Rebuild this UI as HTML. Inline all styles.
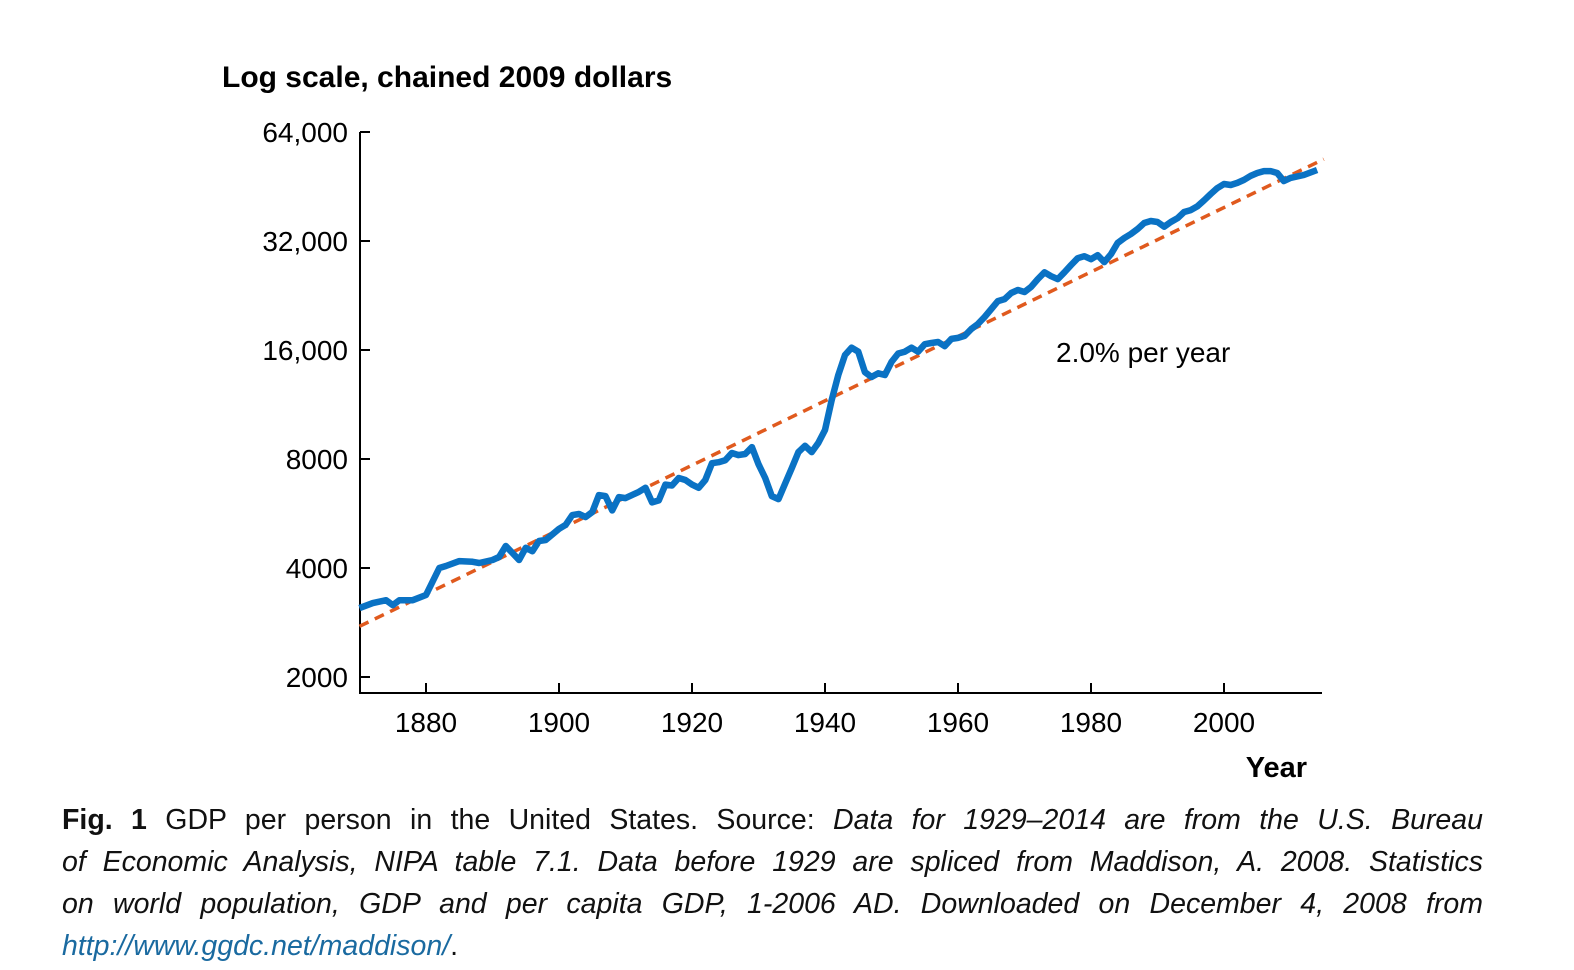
<!DOCTYPE html>
<html><head><meta charset="utf-8"><style>
body{margin:0;background:#fff;width:1574px;height:970px;overflow:hidden;font-family:"Liberation Sans",Arial,sans-serif}
#cap{position:absolute;left:62px;top:799px;width:1421px;font-size:28.5px;line-height:42px;color:#111}
#cap div{text-align:justify;text-align-last:justify;white-space:nowrap;height:42px}
#cap div.last{text-align-last:left}
#cap i{font-style:italic}
</style></head><body>
<svg width="1574" height="790" style="position:absolute;left:0;top:0">
<g id="g"></g>
</svg>
<div id="cap">
<div style="white-space:normal"><b>Fig. 1</b> GDP per person in the United States. Source: <i>Data for 1929–2014 are from the U.S. Bureau</i></div>
<div style="white-space:normal"><i>of Economic Analysis, NIPA table 7.1. Data before 1929 are spliced from Maddison, A. 2008. Statistics</i></div>
<div style="white-space:normal"><i>on world population, GDP and per capita GDP, 1-2006 AD. Downloaded on December 4, 2008 from</i></div>
<div class="last"><i><span style="color:#1a6aa0">http://www.ggdc.net/maddison/</span></i>.</div>
</div>
<script>
const years=[1870,1872,1874,1875,1876,1878,1880,1882,1883,1885,1887,1888,1890,1891,1892,1894,1895,1896,1897,1898,1900,1901,1902,1903,1904,1905,1906,1907,1908,1909,1910,1912,1913,1914,1915,1916,1917,1918,1919,1920,1921,1922,1923,1924,1925,1926,1927,1928,1929,1930,1931,1932,1933,1934,1935,1936,1937,1938,1939,1940,1941,1942,1943,1944,1945,1946,1947,1948,1949,1950,1951,1952,1953,1954,1955,1956,1957,1958,1959,1960,1961,1962,1963,1964,1965,1966,1967,1968,1969,1970,1971,1972,1973,1974,1975,1976,1977,1978,1979,1980,1981,1982,1983,1984,1985,1986,1987,1988,1989,1990,1991,1992,1993,1994,1995,1996,1997,1998,1999,2000,2001,2002,2003,2004,2005,2006,2007,2008,2009,2010,2012,2014];
const gdp=[3100,3200,3260,3160,3260,3260,3370,4000,4050,4180,4160,4130,4210,4290,4600,4210,4550,4450,4750,4780,5130,5260,5600,5640,5530,5710,6360,6320,5770,6280,6240,6490,6660,6070,6150,6800,6760,7090,7000,6800,6660,7000,7790,7840,7940,8310,8200,8260,8630,7740,7090,6320,6200,6840,7550,8360,8700,8360,8870,9620,11640,13650,15500,16240,15830,13900,13480,13800,13650,14830,15650,15830,16240,15830,16600,16730,16840,16400,17170,17280,17500,18290,18890,19730,20770,21840,22120,22990,23440,23140,23910,25120,26230,25580,25120,26230,27470,28680,29050,28500,29240,27980,29430,31600,32620,33460,34540,35880,36340,36100,35050,36100,37000,38480,38960,39900,41450,43140,44800,45990,45700,46300,47200,48400,49300,49900,49900,49300,46870,47800,48700,50260];
const trendStartYear=1870, trendStartValue=2760, trendRate=0.0207, trendEndYear=2015;
const yTicks=[2000,4000,8000,16000,32000,64000];
const yTickLabels=["2000","4000","8000","16,000","32,000","64,000"];
const xTicks=[1880,1900,1920,1940,1960,1980,2000];
const X=y=>426+(y-1880)*6.65;
const Y=v=>677-109*Math.log2(v/2000);
const g=document.getElementById('g');
const NS='http://www.w3.org/2000/svg';
function mk(t,a,txt){const e=document.createElementNS(NS,t);for(const k in a)e.setAttribute(k,a[k]);if(txt!=null)e.textContent=txt;g.appendChild(e);return e;}
let e;
e=mk('text',{x:222,y:87,'font-size':30,'font-weight':'bold'},'Log scale, chained 2009 dollars');


e=mk('path',{d:'M360,132V693H1322',stroke:'#000','stroke-width':2,fill:'none'});


yTicks.forEach((t,i)=>{
 e=mk('line',{x1:360,x2:370,y1:Y(t),y2:Y(t),stroke:'#000','stroke-width':2});
 
 
 e=mk('text',{x:348,y:Y(t)+10,'font-size':28,'text-anchor':'end'},yTickLabels[i]);
 
 
});
xTicks.forEach(t=>{
 e=mk('line',{x1:X(t),x2:X(t),y1:693,y2:683,stroke:'#000','stroke-width':2});
 
 
 e=mk('text',{x:X(t),y:732,'font-size':28,'text-anchor':'middle'},String(t));
 
 
});
e=mk('text',{x:1307,y:777,'font-size':29,'font-weight':'bold','text-anchor':'end'},'Year');


const tv=trendStartValue*Math.pow(1+trendRate,trendEndYear-trendStartYear);
e=mk('line',{x1:X(trendStartYear),y1:Y(trendStartValue),x2:X(trendEndYear),y2:Y(tv),stroke:'#e05a1e','stroke-width':3.5,'stroke-dasharray':'10,7'});


e=mk('path',{d:years.map((y,i)=>(i?'L':'M')+X(y).toFixed(1)+','+Y(gdp[i]).toFixed(1)).join(''),stroke:'#0a72c4','stroke-width':6.5,fill:'none','stroke-linejoin':'round'});


e=mk('text',{x:1056,y:362,'font-size':28},'2.0% per year');


</script>
</body></html>
